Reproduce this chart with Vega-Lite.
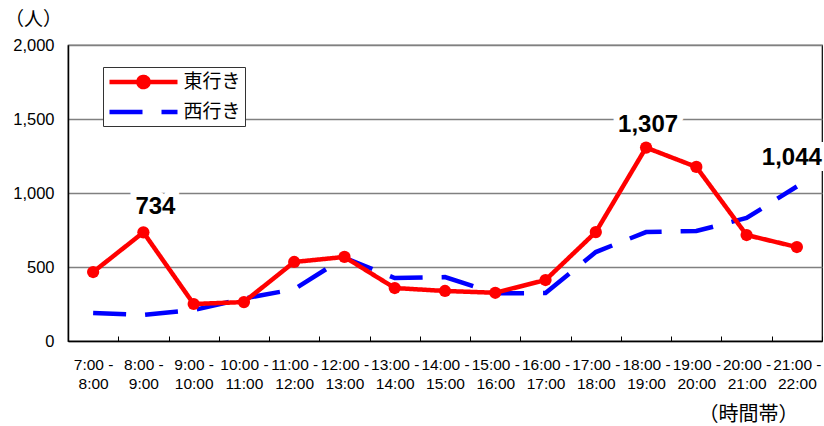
{
  "$schema": "https://vega.github.io/schema/vega-lite/v6.json",
  "width": 754,
  "height": 296,
  "autosize": {"type": "none"},
  "padding": {"left": 68, "top": 45, "right": 2, "bottom": 85},
  "background": "white",
  "config": {
    "font": "Liberation Sans",
    "view": {"stroke": "black", "strokeWidth": 1.2}
  },
  "data": {
    "values": [
      {"t": "7:00-8:00", "dir": "西行き", "v": 189},
      {"t": "8:00-9:00", "dir": "西行き", "v": 176},
      {"t": "9:00-10:00", "dir": "西行き", "v": 209},
      {"t": "10:00-11:00", "dir": "西行き", "v": 287},
      {"t": "11:00-12:00", "dir": "西行き", "v": 350},
      {"t": "12:00-13:00", "dir": "西行き", "v": 563},
      {"t": "13:00-14:00", "dir": "西行き", "v": 425},
      {"t": "14:00-15:00", "dir": "西行き", "v": 432},
      {"t": "15:00-16:00", "dir": "西行き", "v": 322},
      {"t": "16:00-17:00", "dir": "西行き", "v": 324},
      {"t": "17:00-18:00", "dir": "西行き", "v": 601},
      {"t": "18:00-19:00", "dir": "西行き", "v": 736},
      {"t": "19:00-20:00", "dir": "西行き", "v": 743},
      {"t": "20:00-21:00", "dir": "西行き", "v": 831},
      {"t": "21:00-22:00", "dir": "西行き", "v": 1044, "label": "1,044"},
      {"t": "7:00-8:00", "dir": "東行き", "v": 466},
      {"t": "8:00-9:00", "dir": "東行き", "v": 734, "label": "734"},
      {"t": "9:00-10:00", "dir": "東行き", "v": 250},
      {"t": "10:00-11:00", "dir": "東行き", "v": 263},
      {"t": "11:00-12:00", "dir": "東行き", "v": 534},
      {"t": "12:00-13:00", "dir": "東行き", "v": 568},
      {"t": "13:00-14:00", "dir": "東行き", "v": 358},
      {"t": "14:00-15:00", "dir": "東行き", "v": 338},
      {"t": "15:00-16:00", "dir": "東行き", "v": 326},
      {"t": "16:00-17:00", "dir": "東行き", "v": 412},
      {"t": "17:00-18:00", "dir": "東行き", "v": 736},
      {"t": "18:00-19:00", "dir": "東行き", "v": 1307, "label": "1,307"},
      {"t": "19:00-20:00", "dir": "東行き", "v": 1176},
      {"t": "20:00-21:00", "dir": "東行き", "v": 716},
      {"t": "21:00-22:00", "dir": "東行き", "v": 635}
    ]
  },
  "encoding": {
    "x": {
      "field": "t",
      "type": "ordinal",
      "sort": null,
      "scale": {"paddingInner": 0, "paddingOuter": 0},
      "axis": {
        "labelAngle": 0,
        "labelExpr": "isValid(datum.value) ? [split(datum.value, '-')[0] + ' -', split(datum.value, '-')[1]] : ''",
        "labelFontSize": 15.5,
        "labelColor": "black",
        "labelLineHeight": 19,
        "labelPadding": 21,
        "tickBand": "extent",
        "tickSize": -5,
        "tickColor": "black",
        "domainColor": "black",
        "domainWidth": 1.5,
        "title": "（時間帯）",
        "titleFont": "Noto Sans CJK JP",
        "titleFontSize": 20,
        "titleFontWeight": "normal",
        "titleColor": "black",
        "titleX": 680,
        "titleY": 73,
        "titleAlign": "center",
        "titleBaseline": "middle"
      }
    },
    "y": {
      "field": "v",
      "type": "quantitative",
      "scale": {"domain": [0, 2000]},
      "axis": {
        "values": [0, 500, 1000, 1500, 2000],
        "format": ",d",
        "labelFontSize": 16.5,
        "labelColor": "black",
        "labelPadding": 14,
        "ticks": false,
        "grid": true,
        "gridColor": "#808080",
        "gridWidth": 1.5,
        "domainColor": "black",
        "domainWidth": 1.5,
        "title": "（人）",
        "titleFont": "Noto Sans CJK JP",
        "titleFontSize": 19,
        "titleFontWeight": "normal",
        "titleColor": "black",
        "titleAngle": 0,
        "titleX": -35,
        "titleY": -26,
        "titleAlign": "center",
        "titleBaseline": "middle"
      }
    }
  },
  "layer": [
    {
      "mark": {"type": "line", "strokeWidth": 4.5},
      "encoding": {
        "color": {
          "field": "dir",
          "type": "nominal",
          "scale": {"domain": ["東行き", "西行き"], "range": ["#ff0000", "#0000ff"]},
          "legend": {
            "title": null,
            "orient": "none",
            "legendX": 35,
            "legendY": 22,
            "direction": "vertical",
            "fillColor": "white",
            "strokeColor": "#333333",
            "padding": 4,
            "rowPadding": 4,
            "labelFont": "Noto Sans CJK JP",
            "labelFontSize": 19,
            "labelColor": "black",
            "labelOffset": 29,
            "symbolOffset": 25.5,
            "symbolType": "stroke",
            "symbolSize": 289,
            "symbolStrokeWidth": 4.5,
            "encode": {
              "symbols": {
                "update": {
                  "shape": {"signal": "datum.value == '東行き' ? 'M-4,0H4M0.6,0A0.6,0.6 0 1,1 -0.6,0A0.6,0.6 0 1,1 0.6,0' : 'M-4,0H4'"},
                  "fill": {"signal": "datum.value == '東行き' ? '#ff0000' : 'transparent'"},
                  "fillOpacity": {"value": 1}
                }
              }
            }
          }
        },
        "strokeDash": {
          "field": "dir",
          "type": "nominal",
          "scale": {"domain": ["東行き", "西行き"], "range": [[1, 0], [33, 19]]},
          "legend": null
        }
      }
    },
    {
      "transform": [{"filter": "datum.dir == '東行き'"}],
      "mark": {"type": "point", "filled": true, "size": 150, "color": "#ff0000", "opacity": 1}
    },
    {
      "transform": [{"filter": "datum.label == '734'"}],
      "layer": [
        {"mark": {"type": "text", "fontSize": 24, "fontWeight": "bold", "dx": 12, "dy": -25, "stroke": "white", "strokeWidth": 12, "fill": "white"}, "encoding": {"text": {"field": "label"}}},
        {"mark": {"type": "text", "fontSize": 24, "fontWeight": "bold", "dx": 12, "dy": -25, "color": "black"}, "encoding": {"text": {"field": "label"}}}
      ]
    },
    {
      "transform": [{"filter": "datum.label == '1,307'"}],
      "layer": [
        {"mark": {"type": "text", "fontSize": 24, "fontWeight": "bold", "dx": 2, "dy": -23, "stroke": "white", "strokeWidth": 12, "fill": "white"}, "encoding": {"text": {"field": "label"}}},
        {"mark": {"type": "text", "fontSize": 24, "fontWeight": "bold", "dx": 2, "dy": -23, "color": "black"}, "encoding": {"text": {"field": "label"}}}
      ]
    },
    {
      "transform": [{"filter": "datum.label == '1,044'"}],
      "layer": [
        {"mark": {"type": "text", "fontSize": 24, "fontWeight": "bold", "dx": -5, "dy": -28, "stroke": "white", "strokeWidth": 12, "fill": "white"}, "encoding": {"text": {"field": "label"}}},
        {"mark": {"type": "text", "fontSize": 24, "fontWeight": "bold", "dx": -5, "dy": -28, "color": "black"}, "encoding": {"text": {"field": "label"}}}
      ]
    }
  ]
}
